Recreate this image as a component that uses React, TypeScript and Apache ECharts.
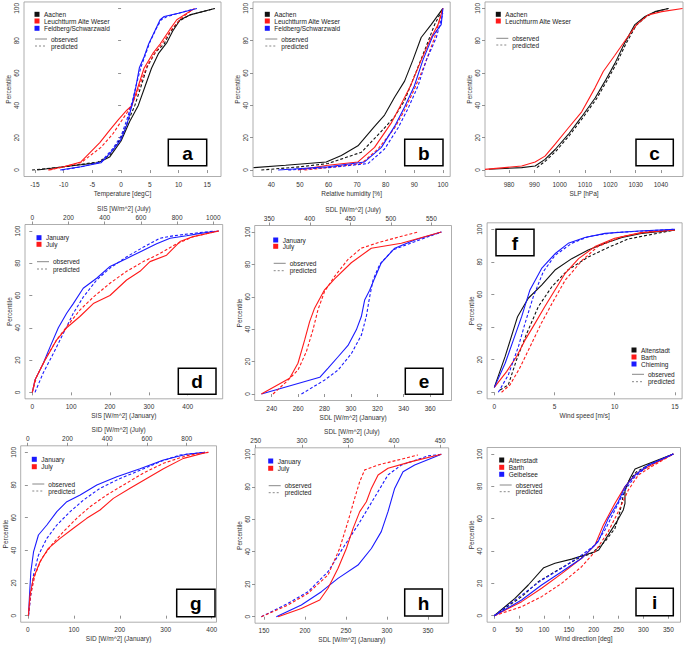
import React, { useEffect, useRef } from "react";
import * as echarts from "echarts";

// ---------- tick labels ----------
const percentileTicks = [0, 20, 40, 60, 80, 100];
const tempTicks = [-15, -10, -5, 0, 5, 10, 15];
const rhTicks = [40, 50, 60, 70, 80, 90, 100];
const slpTicks = [980, 990, 1000, 1010, 1020, 1030, 1040];
const sisJanTicks = [0, 100, 200, 300, 400];
const sisJulTicks = [0, 200, 400, 600, 800, 1000];
const sdlEJanTicks = [240, 260, 280, 300, 320, 340, 360];
const sdlEJulTicks = [350, 400, 450, 500, 550];
const windTicks = [0, 5, 10, 15];
const sidJanTicks = [0, 100, 200, 300, 400];
const sidJulTicks = [0, 200, 400, 600, 800];
const sdlHJanTicks = [150, 200, 250, 300, 350];
const sdlHJulTicks = [250, 300, 350, 400, 450];
const dirTicks = [0, 50, 100, 150, 200, 250, 300, 350];

// ---------- panel a: temperature ----------
const aAachenObs = [[-14.6,0],[-10,2],[-4,4.5],[-2,8],[0,18],[1.5,30],[3,40],[4.2,52],[5.3,63],[6.5,72],[8,79],[9,86],[10.3,93],[12,96],[16.3,100]];
const aAachenPred = [[-15.5,0],[-10,2],[-4,5],[-2,9],[0,20],[1.2,30],[2.4,40],[3.5,52],[4.5,63.5],[6,73],[7.5,78],[8.5,85],[10,92],[12,96],[16.3,100]];
const aLeuchtObs = [[-12.7,0],[-10,2],[-7,5],[-3.7,17],[-1.9,25],[-0.5,31],[1,37],[1.9,40],[3,52],[4,63],[5.5,72],[6.8,78],[8.5,87],[9.7,93],[11,96],[12.8,100]];
const aLeuchtPred = [[-12.5,0],[-10,2],[-7,4.5],[-3.5,14],[-1.5,22],[0,30],[1.5,38],[2.6,46],[3.7,57],[4.6,65],[6,73],[7.3,79],[9,88],[10.5,94],[12.5,99.5]];
const aFeldObs = [[-10.6,0],[-7,2],[-3.5,4.5],[-1.5,12],[0,19],[1,28],[1.9,40],[2.5,50],[3.2,63.5],[4,70],[4.8,78],[6,87],[6.8,93],[7.5,95],[10,97],[13.2,100]];
const aFeldPred = [[-10.3,0],[-7,2],[-3.5,5],[-1.5,13],[0,21],[1,31],[2,43],[2.6,52],[3.4,63],[4.2,71],[5,79],[6.2,88],[7,93],[8,95],[10.5,97.5],[12.5,99.5]];

// ---------- panel b: relative humidity ----------
const bAachenObs = [[33.8,1.5],[45,3],[59.2,5],[64.5,9],[70.3,15],[76.1,27],[79.6,34],[83.1,45],[86.6,55],[89.5,68],[92.4,82],[95.9,90],[100,100]];
const bAachenPred = [[36.5,0],[50,2],[59.8,4],[71.5,11],[78.5,24],[83.1,33],[86.6,43],[90,58],[93.6,74],[97.1,90],[100,100]];
const bLeuchtObs = [[49.3,0],[59.8,3],[70.3,5],[76.1,14],[81.9,29],[85.5,41],[88.9,53],[92.4,68],[95.9,82],[98.3,90],[100,100]];
const bLeuchtPred = [[51.6,0],[62,2],[71.5,4],[77.3,13],[83.1,26],[86.6,37],[90,50],[93.6,65],[97.1,82],[100,100]];
const bFeldObs = [[42.4,0],[59.8,2],[72.6,5],[78.5,14],[83.1,27],[86.6,39],[90,52],[93,68],[96.5,83],[99.4,90],[100,100]];
const bFeldPred = [[45.9,0],[60,1.5],[73.8,4],[79.6,13],[84.3,26],[87.8,38],[91.3,52],[94.2,68],[97.7,82],[100,97]];

// ---------- panel c: sea level pressure ----------
const cAachenObs = [[972,0.5],[985,1.5],[990.3,2.5],[994.2,6.6],[998.2,12.7],[1003.4,22],[1008.7,33],[1014,44.6],[1017.9,55],[1021.8,66],[1025.8,79],[1029.7,90],[1033.7,95],[1037.6,98],[1042.9,100]];
const cAachenPred = [[991,1.5],[994.7,6],[998.7,12],[1003.9,21.5],[1009.2,32.5],[1014.5,44],[1018.4,54.5],[1022.3,65.5],[1026.3,78.5],[1030.2,89.5],[1034.2,95],[1038,98],[1043,100]];
const cLeuchtObs = [[970.5,0.4],[985,2.5],[990.3,5],[994.2,8.6],[998.2,16],[1003.4,26],[1008.7,36],[1014,51],[1017.2,61],[1021.8,71],[1025.8,80],[1030.4,90],[1035,96],[1040.3,98],[1048.5,100]];

// ---------- panel d: SIS ----------
const dJanObs = [[0,0],[6.9,7.6],[28.3,18],[45.5,28],[67,40],[88.4,49],[105.5,55],[131,64.5],[165.6,70.7],[200,78],[243,83],[277,87],[320,92],[354.5,95.5],[397,97],[432,98.5],[480,100]];
const dJanPred = [[6.9,0],[28,12],[54,24],[80,36.6],[105.5,49],[131,59],[165.6,69.6],[200,77],[243,84],[286,90],[328.6,95.5],[363,97],[432,99],[470,100]];
const dJulObs = [[0,0],[14.7,7.6],[60.8,18],[134,32.4],[189.7,40],[263,47],[337,55],[429,60],[521,69.6],[595,75],[650,81],[742,85],[816,93.4],[889.5,96.5],[1030,100]];
const dJulPred = [[0,0],[24,9.7],[79,22],[134,32.4],[190,40.7],[263,51],[337,59],[429,67.6],[521,75],[613,81],[705,86],[797,92],[889.5,96.5],[1030,100]];

// ---------- panel e: SDL ----------
const eJanObs = [[232.2,0],[276.4,10.3],[282.7,16],[290.3,23],[297.8,30],[304.1,39.6],[307.9,47.8],[310.4,58],[314.2,64],[318,71.5],[323,81],[333.2,90],[348.3,95],[368.5,100]];
const eJanPred = [[262.5,0],[280.2,8.7],[290.3,14.8],[300.4,25],[308,36.5],[311.7,48],[314.2,60],[316.8,70.5],[321.8,80],[331.9,89],[348.3,94],[368.5,100]];
const eJulObs = [[340.2,0],[375.1,9.7],[385.4,19],[393.7,33.4],[399.8,44.7],[405.9,53],[418.2,64.3],[430.6,71],[451.2,81],[475.9,90],[513,93],[562.4,100]];
const eJulPred = [[354.6,0],[371.2,7.6],[385.4,14.8],[395.7,26],[403.9,39.6],[410.1,52],[418.2,63.3],[430.6,72.6],[447,83],[463.5,90],[488.2,94],[533.5,100]];

// ---------- panel f: wind speed ----------
const fAltObs = [[0,3],[0.9,22],[1.93,46.4],[2.82,57.7],[3.93,65.8],[5.04,75],[6.43,82],[7.8,87.3],[9.2,91.4],[10.6,95],[12.2,97.5],[15,99.6]];
const fAltPred = [[0.47,1.4],[1.16,4.5],[1.85,20],[2.69,36],[3.66,52.6],[4.8,65],[6.1,75],[7.8,83],[9.5,89],[11.1,94],[12.8,96.5],[15,99.6]];
const fBarthObs = [[0,3],[1.02,12.7],[1.85,22],[2.55,32],[3.38,42.3],[4.2,52.6],[5.04,62.8],[5.89,73],[7,82],[8.36,89.4],[10,94.5],[12.2,98],[15,99.6]];
const fBarthPred = [[0.6,0],[1.3,4.5],[2.1,14.7],[3.1,30],[3.9,42.3],[4.8,54.6],[5.9,68.9],[7.3,81],[8.6,89.4],[10.6,95.5],[12.8,98.6],[15,99.6]];
const fChiemObs = [[0,3],[0.9,17.8],[1.58,32],[2.27,46.4],[2.96,62.8],[3.93,76],[5.04,85],[6.14,91.4],[7.53,95],[9.2,97.5],[12,99],[15,100]];
const fChiemPred = [[0.33,0],[1.16,10.6],[2,28],[2.55,42.3],[3.24,58.7],[4.07,74],[5.04,84],[6.43,91.4],[7.8,95.5],[10,98],[15,100]];

// ---------- panel g: SID ----------
const gJanObs = [[1.4,0],[3.6,12.7],[6.5,27],[12.3,39],[23,49.4],[41.3,55.5],[63,63.7],[84.8,69.8],[113.8,73.9],[150,80],[193.5,85],[244,90],[295,95.3],[345.6,98.8],[385.5,100]];
const gJanPred = [[1.4,0],[6.5,12.7],[12.3,25],[23,37],[41.3,47.3],[63,55.5],[92,63.7],[121,70.8],[157,78],[200.7,84],[244,89],[287.7,94.3],[331,98.4],[385.5,100]];
const gJulObs = [[3.4,0],[11.7,12.7],[28.5,22.9],[62,33],[104,41.2],[163,47.3],[230,53.5],[297,59.6],[364,64.7],[431,71.8],[515,78],[599,84],[683,90],[783.6,96.3],[884,99.4],[909,100]];
const gJulPred = [[3.4,0],[15,12.7],[37,25],[70.5,35],[121,43.3],[179.5,51.4],[246.6,59.6],[313.8,66.7],[397.7,73.9],[481.5,80],[582,87.3],[683,93.3],[800,98],[909,100]];

// ---------- panel h: SDL ----------
const hJanObs = [[165,0],[195.5,7.2],[220,15.4],[240.2,23.6],[264.6,31.8],[280.9,42],[293,52.4],[301.2,64.7],[309.3,79],[319.5,89.3],[333.7,93.4],[366.3,100]];
const hJanPred = [[146.7,0],[179.3,8.2],[203.7,15.4],[228,27.7],[248.4,44],[264.6,56.5],[276.8,66.7],[289,77],[301.2,87.3],[317.5,93.4],[350,99],[366.3,100]];
const hJulObs = [[274.2,0],[299.5,5.1],[319.4,10.3],[328.4,17.5],[339.3,29.8],[348.3,42],[355.6,54.4],[362.8,64.7],[370,70.8],[375.4,79],[382.7,87.3],[393.5,91.4],[418.8,95.5],[451.3,100]];
const hJulPred = [[256.1,0],[285,7.2],[306.7,14.4],[328.4,25.7],[341,42],[350,58.5],[357.3,72.9],[362.8,83.2],[368.2,90.4],[382.7,93.4],[426,99.6]];

// ---------- panel i: wind direction ----------
const iAltObs = [[0,0],[41.6,10.7],[68.4,19],[99.5,29.7],[122,32.4],[155.6,35],[202.5,39.6],[210,40.6],[229.2,50],[246,58],[259.4,65.4],[262.8,69.5],[262.8,77.7],[272.9,85],[283,90.7],[303,93.2],[360,100]];
const iAltPred = [[0,0],[55,11.8],[88.5,21],[122,27.2],[169,35.5],[195.8,38.6],[222.5,45.8],[242.7,54],[252.7,64.3],[259.4,74.6],[269.5,83],[286,89],[309.6,93.2],[360,100]];
const iBarthObs = [[0,0],[55,8.7],[95.2,17],[135.4,26],[175.6,35.5],[202.5,43.7],[219.2,56],[242.7,69.5],[262.8,79.8],[286,88],[316.2,93.2],[360,100]];
const iBarthPred = [[0,0],[55,5.6],[95.2,11.8],[135.4,20],[175.6,30.3],[202.5,39.6],[229.2,52],[249.3,64.3],[269.5,77.7],[289.6,87],[316.2,92.2],[360,100]];
const iGeibObs = [[0,0],[55,9.7],[95.2,19],[135.4,27.2],[175.6,35.5],[209,45.8],[229.2,60.2],[249.3,70.5],[262.8,79.8],[283,87],[309.6,93.2],[360,100]];
const iGeibPred = [[0,0],[55,12.8],[95.2,22],[135.4,29.3],[175.6,37.5],[202.5,43.7],[222.6,53],[242.7,65.4],[262.8,77.7],[283,86],[309.6,92.8],[360,100]];

// ---------- styling ----------
const FONT = '"Liberation Sans", Arial, Helvetica, sans-serif';
const BLACK = "#111111";
const RED = "#ff1a1a";
const BLUE = "#1a1aff";
const FS = 6.5;

type S = { data: number[][]; color: string; dashed: boolean; top?: boolean };
type Panel = {
  letter: string;
  l: number; t: number; r: number; b: number;
  x: { min: number; max: number; ticks: number[]; name: string };
  top?: { min: number; max: number; ticks: number[]; name: string };
  series: S[];
  legendX: number;
  legendRows: { y: number; color?: string; label: string; dashed?: boolean }[];
  box: number[];
};

const obs = (y: number) => ({ y, label: "observed", dashed: false });
const pred = (y: number) => ({ y, label: "predicted", dashed: true });

const panels: Panel[] = [
  {
    letter: "a", l: 24, t: 1, r: 221, b: 176.5,
    x: { min: -16.9, max: 17.4, ticks: tempTicks, name: "Temperature [degC]" },
    series: [
      { data: aAachenObs, color: BLACK, dashed: false },
      { data: aAachenPred, color: BLACK, dashed: true },
      { data: aLeuchtObs, color: RED, dashed: false },
      { data: aLeuchtPred, color: RED, dashed: true },
      { data: aFeldObs, color: BLUE, dashed: false },
      { data: aFeldPred, color: BLUE, dashed: true },
    ],
    legendX: 37,
    legendRows: [
      { y: 14.3, color: BLACK, label: "Aachen" },
      { y: 21, color: RED, label: "Leuchtturm Alte Weser" },
      { y: 28.3, color: BLUE, label: "Feldberg/Schwarzwald" },
      obs(39), pred(46),
    ],
    box: [168.3, 139.3, 206.7, 165.7],
  },
  {
    letter: "b", l: 253, t: 1, r: 450.2, b: 176.5,
    x: { min: 33.6, max: 102.55, ticks: rhTicks, name: "Relative humidity [%]" },
    series: [
      { data: bAachenObs, color: BLACK, dashed: false },
      { data: bAachenPred, color: BLACK, dashed: true },
      { data: bLeuchtObs, color: RED, dashed: false },
      { data: bLeuchtPred, color: RED, dashed: true },
      { data: bFeldObs, color: BLUE, dashed: false },
      { data: bFeldPred, color: BLUE, dashed: true },
    ],
    legendX: 267.3,
    legendRows: [
      { y: 14.3, color: BLACK, label: "Aachen" },
      { y: 21, color: RED, label: "Leuchtturm Alte Weser" },
      { y: 28.3, color: BLUE, label: "Feldberg/Schwarzwald" },
      obs(39), pred(46),
    ],
    box: [404.7, 139.3, 443, 165.7],
  },
  {
    letter: "c", l: 485, t: 1, r: 683, b: 176.5,
    x: { min: 970.5, max: 1048.7, ticks: slpTicks, name: "SLP [hPa]" },
    series: [
      { data: cAachenObs, color: BLACK, dashed: false },
      { data: cAachenPred, color: BLACK, dashed: true },
      { data: cLeuchtObs, color: RED, dashed: false },
    ],
    legendX: 498.3,
    legendRows: [
      { y: 14.3, color: BLACK, label: "Aachen" },
      { y: 21, color: RED, label: "Leuchtturm Alte Weser" },
      obs(38.3), pred(45),
    ],
    box: [636, 139.3, 673.3, 165.7],
  },
  {
    letter: "d", l: 25, t: 224.5, r: 222.7, b: 398.8,
    x: { min: -18.8, max: 490, ticks: sisJanTicks, name: "SIS [W/m^2] (January)" },
    top: { min: -40.3, max: 1052, ticks: sisJulTicks, name: "SIS [W/m^2] (July)" },
    series: [
      { data: dJanObs, color: BLUE, dashed: false },
      { data: dJanPred, color: BLUE, dashed: true },
      { data: dJulObs, color: RED, dashed: false, top: true },
      { data: dJulPred, color: RED, dashed: true, top: true },
    ],
    legendX: 39,
    legendRows: [
      { y: 237.7, color: BLUE, label: "January" },
      { y: 244.3, color: RED, label: "July" },
      obs(261.7), pred(269),
    ],
    box: [178.3, 368.3, 216, 394.3],
  },
  {
    letter: "e", l: 254.7, t: 225.5, r: 451.5, b: 400.5,
    x: { min: 227.1, max: 376.2, ticks: sdlEJanTicks, name: "SDL [W/m^2] (January)" },
    top: { min: 332, max: 574.9, ticks: sdlEJulTicks, name: "SDL [W/m^2] (July)" },
    series: [
      { data: eJanObs, color: BLUE, dashed: false },
      { data: eJanPred, color: BLUE, dashed: true },
      { data: eJulObs, color: RED, dashed: false, top: true },
      { data: eJulPred, color: RED, dashed: true, top: true },
    ],
    legendX: 275.7,
    legendRows: [
      { y: 240, color: BLUE, label: "January" },
      { y: 246.3, color: RED, label: "July" },
      obs(263.3), pred(270.7),
    ],
    box: [405.3, 368.3, 443, 394.3],
  },
  {
    letter: "f", l: 487.1, t: 222.8, r: 682.1, b: 398.8,
    x: { min: -0.6, max: 15.6, ticks: windTicks, name: "Wind speed [m/s]" },
    series: [
      { data: fAltObs, color: BLACK, dashed: false },
      { data: fAltPred, color: BLACK, dashed: true },
      { data: fBarthObs, color: RED, dashed: false },
      { data: fBarthPred, color: RED, dashed: true },
      { data: fChiemObs, color: BLUE, dashed: false },
      { data: fChiemPred, color: BLUE, dashed: true },
    ],
    legendX: 634,
    legendRows: [
      { y: 350, color: BLACK, label: "Altenstadt" },
      { y: 357, color: RED, label: "Barth" },
      { y: 364, color: BLUE, label: "Chieming" },
      obs(374.3), pred(381.7),
    ],
    box: [496, 229.3, 534, 255.7],
  },
  {
    letter: "g", l: 20.7, t: 445.8, r: 216.5, b: 622.2,
    x: { min: -15.6, max: 410.4, ticks: sidJanTicks, name: "SID [W/m^2] (January)" },
    top: { min: -35.2, max: 950, ticks: sidJulTicks, name: "SID [W/m^2] (July)" },
    series: [
      { data: gJanObs, color: BLUE, dashed: false },
      { data: gJanPred, color: BLUE, dashed: true },
      { data: gJulObs, color: RED, dashed: false, top: true },
      { data: gJulPred, color: RED, dashed: true, top: true },
    ],
    legendX: 34.3,
    legendRows: [
      { y: 459.3, color: BLUE, label: "January" },
      { y: 466.7, color: RED, label: "July" },
      obs(484), pred(491),
    ],
    box: [176.7, 589.3, 215, 616.7],
  },
  {
    letter: "h", l: 255, t: 447.8, r: 448.7, b: 623.2,
    x: { min: 139, max: 375.2, ticks: sdlHJanTicks, name: "SDL [W/m^2] (January)" },
    top: { min: 249.2, max: 459.3, ticks: sdlHJulTicks, name: "SDL [W/m^2] (July)" },
    series: [
      { data: hJanObs, color: BLUE, dashed: false },
      { data: hJanPred, color: BLUE, dashed: true },
      { data: hJulObs, color: RED, dashed: false, top: true },
      { data: hJulPred, color: RED, dashed: true, top: true },
    ],
    legendX: 270.7,
    legendRows: [
      { y: 461, color: BLUE, label: "January" },
      { y: 468.3, color: RED, label: "July" },
      obs(485.7), pred(492.7),
    ],
    box: [404.7, 589, 442.3, 616],
  },
  {
    letter: "i", l: 487.1, t: 447.5, r: 680.5, b: 622.2,
    x: { min: -14.4, max: 374.4, ticks: dirTicks, name: "Wind direction [deg]" },
    series: [
      { data: iAltObs, color: BLACK, dashed: false },
      { data: iAltPred, color: BLACK, dashed: true },
      { data: iBarthObs, color: RED, dashed: false },
      { data: iBarthPred, color: RED, dashed: true },
      { data: iGeibObs, color: BLUE, dashed: false },
      { data: iGeibPred, color: BLUE, dashed: true },
    ],
    legendX: 501.7,
    legendRows: [
      { y: 460, color: BLACK, label: "Altenstadt" },
      { y: 467.3, color: RED, label: "Barth" },
      { y: 474.3, color: BLUE, label: "Geibelsee" },
      obs(485), pred(491.7),
    ],
    box: [636, 588.3, 673.3, 615.7],
  },
];

const plain = (v: number) => String(v);

function axisCommon(ticks: number[]) {
  return {
    type: "value" as const,
    axisLine: { show: false },
    splitLine: { show: false },
    axisTick: { show: true, length: 3, customValues: ticks, lineStyle: { color: "#777", width: 0.8 } },
    axisLabel: { customValues: ticks, formatter: plain, fontSize: FS, color: "#333", margin: 4, fontFamily: FONT },
    nameLocation: "middle" as const,
    nameTextStyle: { fontSize: FS, color: "#333", fontFamily: FONT },
  };
}

function buildOption() {
  const grid: any[] = [];
  const xAxis: any[] = [];
  const yAxis: any[] = [];
  const series: any[] = [];
  const graphic: any[] = [];

  panels.forEach((p, gi) => {
    grid.push({
      left: p.l, top: p.t, width: p.r - p.l, height: p.b - p.t,
      show: true, borderColor: "#999", borderWidth: 0.8, backgroundColor: "transparent",
    });
    const bottomIdx = xAxis.length;
    xAxis.push({
      ...axisCommon(p.x.ticks), gridIndex: gi, position: "bottom",
      min: p.x.min, max: p.x.max, name: p.x.name, nameGap: 13,
    });
    let topIdx = bottomIdx;
    if (p.top) {
      topIdx = xAxis.length;
      xAxis.push({
        ...axisCommon(p.top.ticks), gridIndex: gi, position: "top",
        min: p.top.min, max: p.top.max, name: p.top.name, nameGap: 13,
      });
    }
    const yIdx = yAxis.length;
    yAxis.push({
      ...axisCommon(percentileTicks), gridIndex: gi, position: "left",
      min: -4, max: 104, name: "Percentile", nameGap: 12, nameRotate: 90,
      axisLabel: { ...axisCommon(percentileTicks).axisLabel, rotate: 90 },
    });
    p.series.forEach((s) => {
      series.push({
        type: "line",
        xAxisIndex: s.top ? topIdx : bottomIdx,
        yAxisIndex: yIdx,
        data: s.data,
        symbol: "none",
        silent: true,
        lineStyle: { color: s.color, width: 1.1, type: s.dashed ? [3, 2] : "solid" },
      });
    });

    // legend
    p.legendRows.forEach((row) => {
      if (row.color) {
        graphic.push({
          type: "rect", shape: { x: p.legendX - 2.5, y: row.y - 2.5, width: 5, height: 5 },
          style: { fill: row.color }, silent: true,
        });
        graphic.push({
          type: "text", x: p.legendX + 7, y: row.y, silent: true,
          style: { text: row.label, fontSize: FS, fontFamily: FONT, fill: "#222", verticalAlign: "middle", align: "left" },
        });
      } else {
        graphic.push({
          type: "line", silent: true,
          shape: { x1: p.legendX - 2, y1: row.y, x2: p.legendX + 10, y2: row.y },
          style: { stroke: "#888", lineWidth: 1, lineDash: row.dashed ? [2, 2] : null },
        });
        graphic.push({
          type: "text", x: p.legendX + 14, y: row.y, silent: true,
          style: { text: row.label, fontSize: FS, fontFamily: FONT, fill: "#222", verticalAlign: "middle", align: "left" },
        });
      }
    });

    // letter box
    const [x1, y1, x2, y2] = p.box;
    graphic.push({
      type: "rect", silent: true, z: 100,
      shape: { x: x1, y: y1, width: x2 - x1, height: y2 - y1 },
      style: { fill: "#fff", stroke: "#000", lineWidth: 1.5 },
    });
    graphic.push({
      type: "text", silent: true, z: 101,
      x: (x1 + x2) / 2, y: (y1 + y2) / 2 + 0.5,
      style: {
        text: p.letter, fontSize: 19, fontWeight: "bold", fontFamily: FONT,
        fill: "#000", align: "center", verticalAlign: "middle",
      },
    });
  });

  return { animation: false, backgroundColor: "#fff", grid, xAxis, yAxis, series, graphic };
}

export default function App() {
  const ref = useRef<HTMLDivElement>(null);
  useEffect(() => {
    if (!ref.current) return;
    const chart = echarts.init(ref.current, undefined, { renderer: "svg" });
    chart.setOption(buildOption() as any);
    return () => chart.dispose();
  }, []);
  return (
    <div
      ref={ref}
      style={{ position: "absolute", left: 0, top: 0, width: 685, height: 645, background: "#fff" }}
    />
  );
}
